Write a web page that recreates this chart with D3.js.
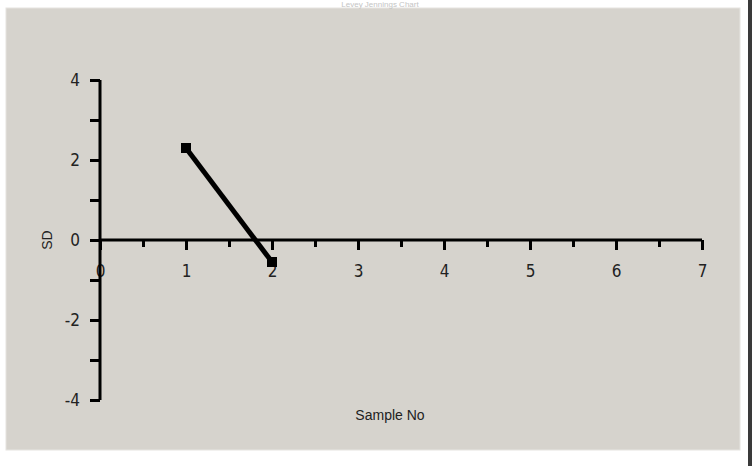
<!DOCTYPE html>
<html>
<head>
<meta charset="utf-8">
<script src="https://cdn.jsdelivr.net/npm/d3@7"></script>
<style>
  body { margin: 0; background: #fff; }
  svg { display: block; }
</style>
</head>
<body>
<svg width="752" height="466"></svg>
<script>
// data
const sampleNo = [1, 2];
const sdValues = [2.3, -0.55];
const xTicks = [0, 1, 2, 3, 4, 5, 6, 7];
const yTicks = [-4, -2, 0, 2, 4];

const svg = d3.select('svg');
const width = +svg.attr('width');
const height = +svg.attr('height');

// panel background
svg.append('rect')
    .attr('x', 6).attr('y', 8)
    .attr('width', 734).attr('height', 442)
    .attr('fill', '#d6d3cd')
    .attr('stroke', '#e6e4e0')
    .attr('stroke-width', 1);

// right edge dark line
svg.append('rect')
    .attr('x', 748).attr('y', 0)
    .attr('width', 4).attr('height', height)
    .attr('fill', '#3a3a3a');

// title, faint at the very top
svg.append('text')
    .attr('x', 380).attr('y', 7)
    .attr('text-anchor', 'middle')
    .style('font-family', 'Liberation Sans, Arial, sans-serif')
    .style('font-size', '8px')
    .attr('fill', '#c4c4c4')
    .text('Levey Jennings Chart');

const xScale = d3.scaleLinear().domain([0, 7]).range([100, 702]);
const yScale = d3.scaleLinear().domain([-4, 4]).range([400, 80]);

const font = 'DejaVu Sans Condensed, Liberation Sans Narrow, sans-serif';

// x axis at SD = 0
const xAxis = d3.axisBottom(xScale)
    .tickValues(d3.range(0, 7.01, 0.5))
    .tickSize(10)
    .tickPadding(15)
    .tickFormat(d => xTicks.includes(d) ? d : '');

const gx = svg.append('g')
    .attr('transform', `translate(0,${yScale(0)})`)
    .call(xAxis);
gx.select('.domain').attr('stroke', '#000').attr('stroke-width', 3)
    .attr('d', `M${xScale(0)},0H${xScale(7)}`);
gx.selectAll('.tick line')
    .attr('stroke', '#000')
    .attr('stroke-width', 3)
    .attr('y2', d => Number.isInteger(d) ? 10 : 7);
gx.selectAll('.tick text')
    .style('font-family', font)
    .style('font-size', '17px')
    .attr('fill', '#222');

// y axis at sample 0
const yAxis = d3.axisLeft(yScale)
    .tickValues(d3.range(-4, 4.01, 1))
    .tickSize(10)
    .tickPadding(10)
    .tickFormat(d => yTicks.includes(d) ? d : '');

const gy = svg.append('g')
    .attr('transform', `translate(${xScale(0)},0)`)
    .call(yAxis);
gy.select('.domain').attr('stroke', '#000').attr('stroke-width', 3)
    .attr('d', `M0,${yScale(4)}V${yScale(-4)}`);
gy.selectAll('.tick line')
    .attr('stroke', '#000')
    .attr('stroke-width', 3);
gy.selectAll('.tick text')
    .style('font-family', font)
    .style('font-size', '17px')
    .attr('fill', '#222');

// axis titles
svg.append('text')
    .attr('transform', `translate(52,${yScale(0)}) rotate(-90)`)
    .attr('text-anchor', 'middle')
    .style('font-family', 'Liberation Sans, Arial, sans-serif')
    .style('font-size', '14px')
    .attr('fill', '#222')
    .text('SD');

svg.append('text')
    .attr('x', 390).attr('y', 420)
    .attr('text-anchor', 'middle')
    .style('font-family', 'Liberation Sans, Arial, sans-serif')
    .style('font-size', '14px')
    .attr('fill', '#222')
    .text('Sample No');

// data line
const pts = sampleNo.map((s, i) => [s, sdValues[i]]);
const line = d3.line()
    .x(d => xScale(d[0]))
    .y(d => yScale(d[1]));

svg.append('path')
    .datum(pts)
    .attr('d', line)
    .attr('fill', 'none')
    .attr('stroke', '#000')
    .attr('stroke-width', 5);

svg.selectAll('rect.pt')
    .data(pts)
    .enter()
    .append('rect')
    .attr('class', 'pt')
    .attr('x', d => xScale(d[0]) - 5)
    .attr('y', d => yScale(d[1]) - 5)
    .attr('width', 10)
    .attr('height', 10)
    .attr('fill', '#000');
</script>
</body>
</html>
